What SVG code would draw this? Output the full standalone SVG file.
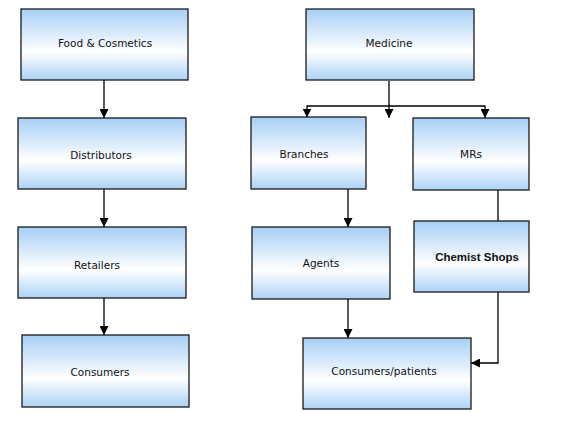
<svg xmlns="http://www.w3.org/2000/svg" width="563" height="424" viewBox="0 0 563 424">
<style>
.box{fill:url(#g);stroke:#1a1a1a;stroke-width:1.3}
.t{font-family:"DejaVu Sans",sans-serif;font-size:10.5px;fill:#111;text-anchor:middle}
.b{font-family:"Liberation Sans",Arial,sans-serif;font-size:11.5px;font-weight:bold}
.c{fill:none;stroke:#000;stroke-width:1.3}
</style>
<defs>
<linearGradient id="g" x1="0" y1="0" x2="0" y2="1">
<stop offset="0" stop-color="#a6cff5"/>
<stop offset="0.6" stop-color="#ffffff"/>
<stop offset="1" stop-color="#acd3f6"/>
</linearGradient>
<marker id="a" viewBox="0 0 10 10" refX="10" refY="5" markerWidth="9" markerHeight="9" markerUnits="userSpaceOnUse" orient="auto">
<path d="M0,0L10,5L0,10z" fill="#000"/>
</marker>
</defs>
<g id="connectors">
<line class="c" x1="104" y1="80" x2="104" y2="118" marker-end="url(#a)"/>
<line class="c" x1="104" y1="189" x2="104" y2="227" marker-end="url(#a)"/>
<line class="c" x1="104" y1="298" x2="104" y2="335" marker-end="url(#a)"/>
<line class="c" x1="389" y1="81" x2="389" y2="118" marker-end="url(#a)"/>
<line class="c" x1="307" y1="106" x2="485" y2="106"/>
<line class="c" x1="307" y1="105.4" x2="307" y2="117.5" marker-end="url(#a)"/>
<line class="c" x1="485" y1="105.4" x2="485" y2="118" marker-end="url(#a)"/>
<line class="c" x1="348" y1="189" x2="348" y2="227" marker-end="url(#a)"/>
<line class="c" x1="498" y1="190" x2="498" y2="221"/>
<line class="c" x1="348" y1="299" x2="348" y2="338" marker-end="url(#a)"/>
<polyline class="c" points="498,292 498,363 471,363" marker-end="url(#a)"/>
</g>
<g id="food"><rect class="box" x="21" y="9" width="167" height="71"/><text class="t" x="105" y="47">Food &amp; Cosmetics</text></g>
<g id="distributors"><rect class="box" x="18" y="118" width="168" height="71"/><text class="t" x="101" y="159">Distributors</text></g>
<g id="retailers"><rect class="box" x="18" y="227" width="168" height="71"/><text class="t" x="97" y="269">Retailers</text></g>
<g id="consumers"><rect class="box" x="22" y="335" width="167" height="72"/><text class="t" x="100" y="376">Consumers</text></g>
<g id="medicine"><rect class="box" x="306" y="9" width="168" height="71"/><text class="t" x="389" y="47">Medicine</text></g>
<g id="branches"><rect class="box" x="251" y="117" width="115" height="72"/><text class="t" x="304" y="158">Branches</text></g>
<g id="mrs"><rect class="box" x="413" y="118" width="116" height="72"/><text class="t" x="471" y="158">MRs</text></g>
<g id="agents"><rect class="box" x="252" y="227" width="138" height="72"/><text class="t" x="321" y="267">Agents</text></g>
<g id="chemist"><rect class="box" x="414" y="221" width="115" height="71"/><text class="t b" x="477" y="261">Chemist Shops</text></g>
<g id="patients"><rect class="box" x="303" y="338" width="168" height="71"/><text class="t" x="384" y="375">Consumers/patients</text></g>
</svg>
